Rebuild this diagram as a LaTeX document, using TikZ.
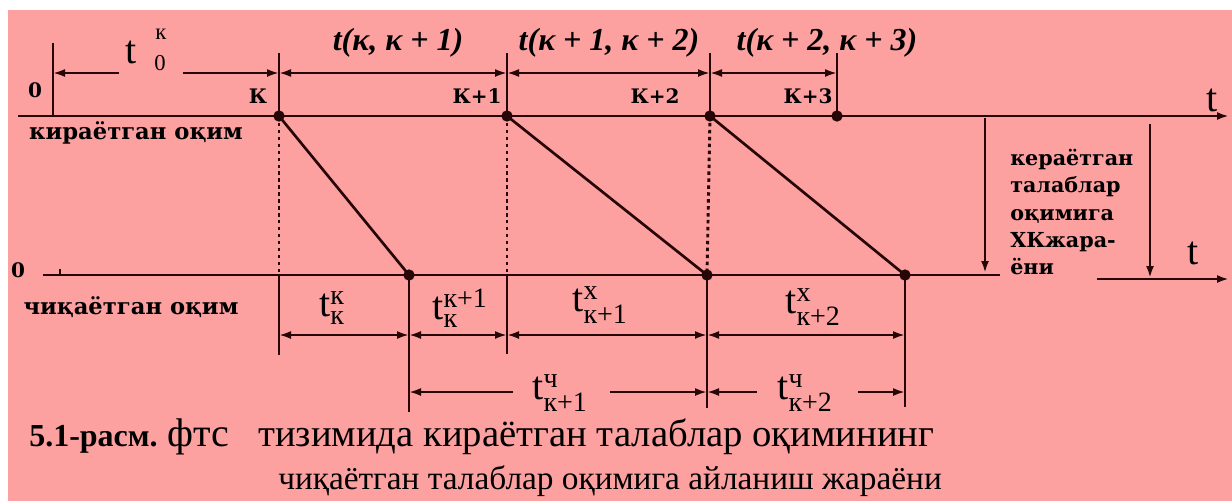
\documentclass[tikz,border=0pt]{standalone}
\usepackage{amsmath}
\usepackage{fontspec}
\setmainfont{Liberation Serif}
\newfontfamily\lblfont{DejaVu Serif}
\usetikzlibrary{arrows.meta}
\definecolor{paper}{RGB}{252,160,160}
\definecolor{ink}{RGB}{38,6,6}
\tikzset{
  axis/.style={draw=ink, line width=2pt},
  dimline/.style={draw=ink, line width=1.6pt},
  dimboth/.style={dimline, {Latex[length=9pt,width=6pt]}-{Latex[length=9pt,width=6pt]}},
  dimleft/.style={dimline, {Latex[length=9pt,width=6pt]}-},
  dimright/.style={dimline, -{Latex[length=9pt,width=6pt]}},
  dotline/.style={draw=ink, line width=2.2pt, dash pattern=on 2.6pt off 2.6pt},
  event/.style={circle, fill=ink, inner sep=0pt, minimum size=8.5pt},
  evlbl/.style={font=\lblfont\bfseries\fontsize{15}{17}\selectfont, inner sep=0pt},
  flowlbl/.style={font=\lblfont\bfseries\fontsize{17}{19}\selectfont, inner sep=0pt},
  ilbl/.style={font=\bfseries\itshape\fontsize{24}{26}\selectfont, inner sep=0pt},
  tlbl/.style={font=\fontsize{30}{32}\selectfont, inner sep=0pt},
  sublbl/.style={font=\fontsize{17}{19}\selectfont, inner sep=0pt},
  caplbl/.style={anchor=base west, inner sep=0pt},
}

\begin{document}
\begin{tikzpicture}[x=0.75pt, y=-0.75pt]
  % page and paper
  \fill[white] (0,0) rectangle (1232,501);
  \fill[paper] (8,10) rectangle (1232,501);
  \useasboundingbox (0,0) rectangle (1232,501);

  % arrival and departure points
  \coordinate (o0) at (53,116);
  \coordinate (a0) at (279,116);
  \coordinate (a1) at (507,116);
  \coordinate (a2) at (710,116);
  \coordinate (a3) at (837,116);
  \coordinate (d0) at (409,275);
  \coordinate (d1) at (707,275);
  \coordinate (d2) at (905,275);

  % axes
  \coordinate (inL) at (18,116);
  \coordinate (inR) at (1229,116);
  \coordinate (outL) at (43,275);
  \coordinate (outM) at (1000,275);
  \coordinate (endL) at (1097,279);
  \coordinate (endR) at (1229,279);
  \draw[axis, -{Latex[length=9pt,width=6pt]}] (inL) -- (inR);
  \draw[axis] (outL) -- (outM);
  \draw[axis, -{Latex[length=9pt,width=6pt]}] (endL) -- (endR);
  \draw[dimline] (60,269) -- (60,274);

  % ticks on the input axis
  \coordinate (tickrow) at (0,53);
  \draw[axis] (o0) -- (53,43);
  \foreach \p in {a0,a1,a2,a3}
    \draw[axis] (\p) -- (\p|-tickrow);

  % service lines
  \draw[axis] (a0) -- (d0);
  \draw[axis] (a1) -- (d1);
  \draw[axis] (a2) -- (d2);
  \draw[dotline] (a0) -- (a0|-outL);
  \draw[dotline] (a1) -- (a1|-outL);
  \draw[dotline] (a2) -- (d1);

  % drop lines under the output axis
  \draw[axis] (a0|-outL) -- (a0|-0,355);
  \draw[axis] (d0) -- (d0|-0,412);
  \draw[axis] (a1|-outL) -- (a1|-0,354);
  \draw[axis] (d1) -- (d1|-0,408);
  \draw[axis] (d2) -- (d2|-0,407);

  \foreach \p in {a0,a1,a2,a3,d0,d1,d2}
    \node[event] at (\p) {};

  % intervals between arrivals
  \coordinate (row1) at (0,73);
  \coordinate (t0a) at (119,73);
  \coordinate (t0b) at (183,73);
  \draw[dimleft] (o0|-row1) -- (t0a);
  \draw[dimright] (t0b) -- (a0|-row1);
  \draw[dimboth] (a0|-row1) -- (a1|-row1);
  \draw[dimboth] (a1|-row1) -- (a2|-row1);
  \draw[dimboth] (a2|-row1) -- (a3|-row1);

  % intervals on the output side
  \coordinate (row2) at (0,335);
  \draw[dimboth] (a0|-row2) -- (d0|-row2);
  \draw[dimboth] (d0|-row2) -- (a1|-row2);
  \draw[dimboth] (a1|-row2) -- (d1|-row2);
  \draw[dimboth] (d1|-row2) -- (d2|-row2);

  \coordinate (row3) at (0,392);
  \coordinate (c1a) at (513,392);
  \coordinate (c1b) at (610,392);
  \coordinate (c2a) at (757,392);
  \coordinate (c2b) at (858,392);
  \draw[dimleft] (d0|-row3) -- (c1a);
  \draw[dimright] (c1b) -- (d1|-row3);
  \draw[dimleft] (d1|-row3) -- (c2a);
  \draw[dimright] (c2b) -- (d2|-row3);

  % transfer arrows
  \coordinate (v1a) at (985,118);
  \coordinate (v1b) at (985,273);
  \coordinate (v2a) at (1150,124);
  \coordinate (v2b) at (1150,278);
  \draw[axis, -{Latex[length=9pt,width=6pt]}] (v1a) -- (v1b);
  \draw[axis, -{Latex[length=9pt,width=6pt]}] (v2a) -- (v2b);

  % labels
  \node[evlbl] (zin) at (35,90) {0};
  \node[evlbl] (zout) at (18,270) {0};
  \node[tlbl] (t0) at (131,52) {t};
  \node[sublbl] (t0up) at (161,34) {к};
  \node[sublbl] (t0dn) at (160,63) {0};
  \node[evlbl] (k0) at (258,96) {К};
  \node[evlbl] (k1) at (477,96) {К+1};
  \node[evlbl] (k2) at (655,96) {К+2};
  \node[evlbl] (k3) at (808,96) {К+3};
  \node[ilbl] (i1) at (398,43) {\textit{t}(\textit{κ}, \textit{κ} + 1)};
  \node[ilbl] (i2) at (609,43) {\textit{t}(\textit{κ} + 1, \textit{κ} + 2)};
  \node[ilbl] (i3) at (827,43) {\textit{t}(\textit{κ} + 2, \textit{κ} + 3)};
  \node[tlbl] (tin) at (1212,100) {t};
  \node[tlbl] (tout) at (1193,253) {t};
  \node[flowlbl] (inname) at (136,133) {кираётган оқим};
  \node[flowlbl] (outname) at (131,307) {чиқаётган оқим};
  \node[flowlbl, anchor=west, align=left, font=\lblfont\bfseries\fontsize{15.5}{20.6}\selectfont]
    (note) at (1010,212) {кераётган\\талаблар\\оқимига\\ХКжара-\\ёни};

  \node[tlbl] (w1) at (332,308) {$\text{t}^{\text{к}}_{\text{к}}$};
  \node[tlbl] (w2) at (460,308) {$\text{t}^{\text{к+1}}_{\text{к}}$};
  \node[tlbl] (s1) at (600,305) {$\text{t}^{\text{х}}_{\text{к+1}}$};
  \node[tlbl] (s2) at (813,307) {$\text{t}^{\text{х}}_{\text{к+2}}$};
  \node[tlbl] (c1) at (560,393) {$\text{t}^{\text{ч}}_{\text{к+1}}$};
  \node[tlbl] (c2) at (805,393) {$\text{t}^{\text{ч}}_{\text{к+2}}$};

  % caption
  \node[caplbl, font=\bfseries\fontsize{24}{26}\selectfont] (capno) at (29,446) {5.1-расм.};
  \node[caplbl, font=\fontsize{30}{30}\selectfont] (capsys) at (167,446) {фтс};
  \node[caplbl, font=\fontsize{29}{30}\selectfont] (cap1) at (258,446)
    {тизимида кираётган талаблар оқимининг};
  \node[caplbl, font=\fontsize{25}{30}\selectfont] (cap2) at (278,489)
    {чиқаётган талаблар оқимига айланиш жараёни};
\end{tikzpicture}
\end{document}
